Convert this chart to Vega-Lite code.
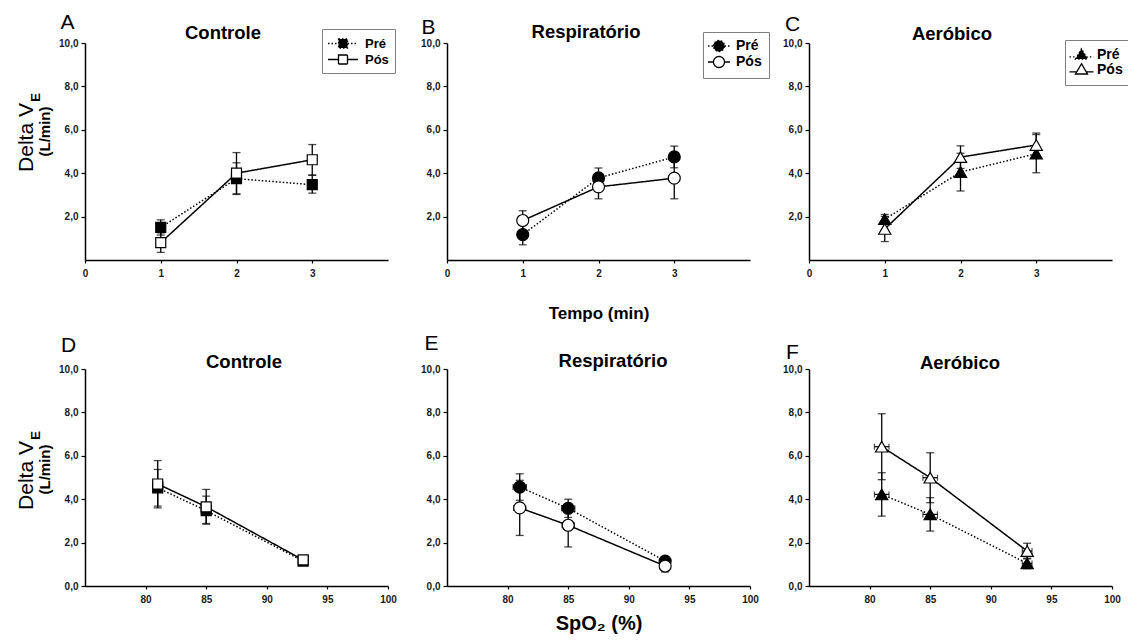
{
  "$schema": "https://vega.github.io/schema/vega-lite/v6.json",
  "background": "white",
  "padding": {"left": 15, "top": 11, "right": 5, "bottom": 5},
  "datasets": {
    "A": [
      {"grupo": "Pré", "t": 1, "v": 1.5, "lo": 1.15, "hi": 1.85},
      {"grupo": "Pré", "t": 2, "v": 3.75, "lo": 3.02, "hi": 4.48},
      {"grupo": "Pré", "t": 3, "v": 3.47, "lo": 3.08, "hi": 3.9},
      {"grupo": "Pós", "t": 1, "v": 0.8, "lo": 0.35, "hi": 1.25},
      {"grupo": "Pós", "t": 2, "v": 4.0, "lo": 3.05, "hi": 4.95},
      {"grupo": "Pós", "t": 3, "v": 4.62, "lo": 3.92, "hi": 5.32}
    ],
    "B": [
      {"grupo": "Pré", "t": 1, "v": 1.17, "lo": 0.7, "hi": 1.64},
      {"grupo": "Pré", "t": 2, "v": 3.78, "lo": 3.32, "hi": 4.24},
      {"grupo": "Pré", "t": 3, "v": 4.75, "lo": 4.25, "hi": 5.25},
      {"grupo": "Pós", "t": 1, "v": 1.82, "lo": 1.37, "hi": 2.27},
      {"grupo": "Pós", "t": 2, "v": 3.37, "lo": 2.82, "hi": 3.92},
      {"grupo": "Pós", "t": 3, "v": 3.77, "lo": 2.82, "hi": 4.72}
    ],
    "C": [
      {"grupo": "Pré", "t": 1, "v": 1.88, "lo": 1.66, "hi": 2.1},
      {"grupo": "Pré", "t": 2, "v": 4.05, "lo": 3.18, "hi": 4.92},
      {"grupo": "Pré", "t": 3, "v": 4.9, "lo": 4.02, "hi": 5.78},
      {"grupo": "Pós", "t": 1, "v": 1.43, "lo": 0.85, "hi": 2.01},
      {"grupo": "Pós", "t": 2, "v": 4.74, "lo": 4.22, "hi": 5.26},
      {"grupo": "Pós", "t": 3, "v": 5.3, "lo": 4.75, "hi": 5.85}
    ],
    "D": [
      {"grupo": "Pré", "spo2": 81, "v": 4.52, "lo": 3.68, "hi": 5.37, "xlo": 80.6, "xhi": 81.4},
      {"grupo": "Pré", "spo2": 85, "v": 3.47, "lo": 2.85, "hi": 4.14, "xlo": 84.6, "xhi": 85.4},
      {"grupo": "Pré", "spo2": 93, "v": 1.15, "lo": 1.0, "hi": 1.3, "xlo": 92.7, "xhi": 93.3},
      {"grupo": "Pós", "spo2": 81, "v": 4.7, "lo": 3.6, "hi": 5.78, "xlo": 80.6, "xhi": 81.4},
      {"grupo": "Pós", "spo2": 85, "v": 3.65, "lo": 2.88, "hi": 4.45, "xlo": 84.6, "xhi": 85.4},
      {"grupo": "Pós", "spo2": 93, "v": 1.2, "lo": 1.05, "hi": 1.35, "xlo": 92.7, "xhi": 93.3}
    ],
    "E": [
      {"grupo": "Pré", "spo2": 81, "v": 4.56, "lo": 3.95, "hi": 5.17, "xlo": 80.45, "xhi": 81.55},
      {"grupo": "Pré", "spo2": 85, "v": 3.58, "lo": 3.16, "hi": 4.0, "xlo": 84.45, "xhi": 85.55},
      {"grupo": "Pré", "spo2": 93, "v": 1.15, "lo": 0.95, "hi": 1.35, "xlo": 92.7, "xhi": 93.3},
      {"grupo": "Pós", "spo2": 81, "v": 3.6, "lo": 2.33, "hi": 4.87, "xlo": 80.5, "xhi": 81.5},
      {"grupo": "Pós", "spo2": 85, "v": 2.8, "lo": 1.8, "hi": 3.8, "xlo": 84.5, "xhi": 85.5},
      {"grupo": "Pós", "spo2": 93, "v": 0.92, "lo": 0.65, "hi": 1.19, "xlo": 92.7, "xhi": 93.3}
    ],
    "F": [
      {"grupo": "Pré", "spo2": 81, "v": 4.22, "lo": 3.22, "hi": 5.22, "xlo": 80.4, "xhi": 81.6},
      {"grupo": "Pré", "spo2": 85, "v": 3.3, "lo": 2.53, "hi": 4.07, "xlo": 84.4, "xhi": 85.6},
      {"grupo": "Pré", "spo2": 93, "v": 1.04, "lo": 0.8, "hi": 1.28, "xlo": 92.6, "xhi": 93.4},
      {"grupo": "Pós", "spo2": 81, "v": 6.42, "lo": 4.9, "hi": 7.94, "xlo": 80.4, "xhi": 81.6},
      {"grupo": "Pós", "spo2": 85, "v": 4.99, "lo": 3.84, "hi": 6.14, "xlo": 84.4, "xhi": 85.6},
      {"grupo": "Pós", "spo2": 93, "v": 1.61, "lo": 1.25, "hi": 1.97, "xlo": 92.6, "xhi": 93.4}
    ]
  },
  "columns": 3,
  "spacing": {"row": 109, "column": 59},
  "bounds": "flush",
  "resolve": {"scale": {"fill": "independent", "strokeDash": "independent"}},
  "concat": [
    {
      "width": 303, "height": 217,
      "data": {"name": "A"},
      "title": {"text": "Controle", "dx": -13.5, "offset": -31.5},
      "resolve": {"axis": {"y": "independent"}},
      "layer": [
        {
          "mark": {"type": "errorbar", "ticks": true, "size": 8, "thickness": 1.3, "color": "black"},
          "encoding": {
            "x": {"field": "t", "type": "quantitative", "scale": {"domain": [0, 4], "nice": false, "zero": false},
              "axis": {"values": [0, 1, 2, 3], "format": "d", "title": "A", "titleAngle": 0, "titleX": -18, "titleY": -238, "titleAlign": "center", "titleBaseline": "middle", "titleFontSize": 21, "titleFontWeight": "normal"}},
            "y": {"field": "lo", "type": "quantitative", "scale": {"domain": [0, 10], "nice": false},
              "axis": {"orient": "left", "values": [2, 4, 6, 8, 10], "labelExpr": "replace(format(datum.value, '.1f'), '.', ',')", "title": "Delta V", "titleAngle": 270, "titleX": -59, "titleY": 94, "titleAlign": "center", "titleBaseline": "middle", "titleFontSize": 21, "titleFontWeight": "normal"}},
            "y2": {"field": "hi"}
          }
        },
        {
          "mark": {"type": "line", "color": "black", "strokeWidth": 1.5},
          "encoding": {
            "x": {"field": "t", "type": "quantitative"},
            "y": {"field": "v", "type": "quantitative",
              "axis": {"orient": "left", "labels": false, "ticks": false, "domain": false, "title": "(L/min)", "titleAngle": 270, "titleX": -41, "titleY": 88, "titleAlign": "center", "titleBaseline": "middle", "titleFontSize": 15, "titleFontWeight": "bold"}},
            "strokeDash": {"field": "grupo", "type": "nominal", "scale": {"domain": ["Pré", "Pós"], "range": [[1.5, 2], [1, 0]]},
              "legend": {"orient": "none", "legendX": 237, "legendY": -14, "title": null, "symbolType": "M-2,0H-0.6M0.6,0H2M-0.6,-0.6H0.6V0.6H-0.6Z", "symbolSize": 225, "symbolOffset": 6.5, "symbolStrokeColor": "black", "symbolStrokeWidth": 1.3, "labelFontSize": 13, "rowPadding": -0.5, "padding": 6, "labelOffset": 13.5}}
          }
        },
        {
          "mark": {"type": "point", "shape": "square", "filled": true, "size": 100, "stroke": "black", "strokeWidth": 1.2, "opacity": 1},
          "encoding": {
            "x": {"field": "t", "type": "quantitative"},
            "y": {"field": "v", "type": "quantitative",
              "axis": {"orient": "left", "labels": false, "ticks": false, "domain": false, "title": "E", "titleAngle": 270, "titleX": -50, "titleY": 54, "titleAlign": "center", "titleBaseline": "middle", "titleFontSize": 13, "titleFontWeight": "bold"}},
            "fill": {"field": "grupo", "type": "nominal", "scale": {"domain": ["Pré", "Pós"], "range": ["black", "white"]},
              "legend": {"orient": "none", "legendX": 237, "legendY": -14, "title": null, "symbolType": "M-2,0H-0.6M0.6,0H2M-0.6,-0.6H0.6V0.6H-0.6Z", "symbolSize": 225, "symbolOffset": 6.5, "symbolStrokeColor": "black", "symbolStrokeWidth": 1.3, "labelFontSize": 13, "rowPadding": -0.5, "padding": 6, "labelOffset": 13.5}}
          }
        }
      ]
    },
    {
      "width": 303, "height": 217,
      "data": {"name": "B"},
      "title": {"text": "Respiratório", "dx": -12.5, "offset": -25.5},
      "resolve": {"axis": {"y": "independent"}},
      "layer": [
        {
          "mark": {"type": "errorbar", "ticks": true, "size": 8, "thickness": 1.3, "color": "black"},
          "encoding": {
            "x": {"field": "t", "type": "quantitative", "scale": {"domain": [0, 4], "nice": false, "zero": false},
              "axis": {"values": [0, 1, 2, 3], "format": "d", "title": "Tempo (min)", "titleY": 53, "titleBaseline": "middle", "titleFontSize": 17, "titleFontWeight": "bold"}},
            "y": {"field": "lo", "type": "quantitative", "scale": {"domain": [0, 10], "nice": false},
              "axis": {"orient": "left", "values": [2, 4, 6, 8, 10], "labelExpr": "replace(format(datum.value, '.1f'), '.', ',')", "title": "B", "titleAngle": 0, "titleX": -19, "titleY": -16, "titleAlign": "center", "titleBaseline": "middle", "titleFontSize": 21, "titleFontWeight": "normal"}},
            "y2": {"field": "hi"}
          }
        },
        {
          "mark": {"type": "line", "color": "black", "strokeWidth": 1.5},
          "encoding": {
            "x": {"field": "t", "type": "quantitative"},
            "y": {"field": "v", "type": "quantitative", "axis": null},
            "strokeDash": {"field": "grupo", "type": "nominal", "scale": {"domain": ["Pré", "Pós"], "range": [[1.5, 2], [1, 0]]},
              "legend": {"orient": "none", "legendX": 256, "legendY": -11, "title": null, "symbolType": "M-2,0H-1M1,0H2M-1,0A1,1,0,1,1,1,0A1,1,0,1,1,-1,0Z", "symbolSize": 121, "symbolOffset": 2, "symbolStrokeColor": "black", "symbolStrokeWidth": 1.3, "labelFontSize": 14, "rowPadding": -3, "padding": 7, "labelOffset": 10}}
          }
        },
        {
          "mark": {"type": "point", "shape": "circle", "filled": true, "size": 144, "stroke": "black", "strokeWidth": 1.2, "opacity": 1},
          "encoding": {
            "x": {"field": "t", "type": "quantitative"},
            "y": {"field": "v", "type": "quantitative", "axis": null},
            "fill": {"field": "grupo", "type": "nominal", "scale": {"domain": ["Pré", "Pós"], "range": ["black", "white"]},
              "legend": {"orient": "none", "legendX": 256, "legendY": -11, "title": null, "symbolType": "M-2,0H-1M1,0H2M-1,0A1,1,0,1,1,1,0A1,1,0,1,1,-1,0Z", "symbolSize": 121, "symbolOffset": 2, "symbolStrokeColor": "black", "symbolStrokeWidth": 1.3, "labelFontSize": 14, "rowPadding": -3, "padding": 7, "labelOffset": 10}}
          }
        }
      ]
    },
    {
      "width": 303, "height": 217,
      "data": {"name": "C"},
      "title": {"text": "Aeróbico", "dx": -8.5, "offset": -30.5},
      "resolve": {"axis": {"y": "independent"}},
      "layer": [
        {
          "mark": {"type": "errorbar", "ticks": true, "size": 8, "thickness": 1.3, "color": "black"},
          "encoding": {
            "x": {"field": "t", "type": "quantitative", "scale": {"domain": [0, 4], "nice": false, "zero": false},
              "axis": {"values": [0, 1, 2, 3], "format": "d", "title": null}},
            "y": {"field": "lo", "type": "quantitative", "scale": {"domain": [0, 10], "nice": false},
              "axis": {"orient": "left", "values": [2, 4, 6, 8, 10], "labelExpr": "replace(format(datum.value, '.1f'), '.', ',')", "title": "C", "titleAngle": 0, "titleX": -17, "titleY": -19, "titleAlign": "center", "titleBaseline": "middle", "titleFontSize": 21, "titleFontWeight": "normal"}},
            "y2": {"field": "hi"}
          }
        },
        {
          "mark": {"type": "line", "color": "black", "strokeWidth": 1.5},
          "encoding": {
            "x": {"field": "t", "type": "quantitative"},
            "y": {"field": "v", "type": "quantitative", "axis": null},
            "strokeDash": {"field": "grupo", "type": "nominal", "scale": {"domain": ["Pré", "Pós"], "range": [[1.5, 2], [1, 0]]},
              "legend": {"orient": "none", "legendX": 256, "legendY": -3, "title": null, "symbolType": "M-2,0.4H-0.8M0.8,0.4H2M-1,0.75L0,-0.95L1,0.75Z", "symbolSize": 144, "symbolOffset": 2, "symbolStrokeColor": "black", "symbolStrokeWidth": 1.3, "labelFontSize": 14, "rowPadding": -2, "padding": 7.5, "labelOffset": 8.5}}
          }
        },
        {
          "mark": {"type": "point", "shape": "triangle-up", "filled": true, "size": 150, "stroke": "black", "strokeWidth": 1.2, "opacity": 1},
          "encoding": {
            "x": {"field": "t", "type": "quantitative"},
            "y": {"field": "v", "type": "quantitative", "axis": null},
            "fill": {"field": "grupo", "type": "nominal", "scale": {"domain": ["Pré", "Pós"], "range": ["black", "white"]},
              "legend": {"orient": "none", "legendX": 256, "legendY": -3, "title": null, "symbolType": "M-2,0.4H-0.8M0.8,0.4H2M-1,0.75L0,-0.95L1,0.75Z", "symbolSize": 144, "symbolOffset": 2, "symbolStrokeColor": "black", "symbolStrokeWidth": 1.3, "labelFontSize": 14, "rowPadding": -2, "padding": 7.5, "labelOffset": 8.5}}
          }
        }
      ]
    },
    {
      "width": 303, "height": 217,
      "data": {"name": "D"},
      "title": {"text": "Controle", "dx": 7.5, "offset": -37.5},
      "resolve": {"axis": {"y": "independent"}},
      "layer": [
        {
          "mark": {"type": "errorbar", "ticks": true, "size": 8, "thickness": 1.3, "color": "black"},
          "encoding": {
            "x": {"field": "spo2", "type": "quantitative", "scale": {"domain": [75, 100], "nice": false, "zero": false},
              "axis": {"values": [80, 85, 90, 95, 100], "title": "D", "titleAngle": 0, "titleX": -17, "titleY": -241, "titleAlign": "center", "titleBaseline": "middle", "titleFontSize": 21, "titleFontWeight": "normal"}},
            "y": {"field": "lo", "type": "quantitative", "scale": {"domain": [0, 10], "nice": false},
              "axis": {"orient": "left", "values": [0, 2, 4, 6, 8, 10], "labelExpr": "replace(format(datum.value, '.1f'), '.', ',')", "title": "Delta V", "titleAngle": 270, "titleX": -59, "titleY": 106, "titleAlign": "center", "titleBaseline": "middle", "titleFontSize": 21, "titleFontWeight": "normal"}},
            "y2": {"field": "hi"}
          }
        },
        {
          "mark": {"type": "errorbar", "ticks": true, "size": 6, "thickness": 1.2, "color": "black"},
          "encoding": {
            "x": {"field": "xlo", "type": "quantitative", "title": "D"},
            "x2": {"field": "xhi"},
            "y": {"field": "v", "type": "quantitative", "axis": null}
          }
        },
        {
          "mark": {"type": "line", "color": "black", "strokeWidth": 1.5},
          "encoding": {
            "x": {"field": "spo2", "type": "quantitative"},
            "y": {"field": "v", "type": "quantitative",
              "axis": {"orient": "left", "labels": false, "ticks": false, "domain": false, "title": "(L/min)", "titleAngle": 270, "titleX": -41, "titleY": 100, "titleAlign": "center", "titleBaseline": "middle", "titleFontSize": 15, "titleFontWeight": "bold"}},
            "strokeDash": {"field": "grupo", "type": "nominal", "scale": {"domain": ["Pré", "Pós"], "range": [[1.5, 2], [1, 0]]}, "legend": null}
          }
        },
        {
          "mark": {"type": "point", "shape": "square", "filled": true, "size": 100, "stroke": "black", "strokeWidth": 1.2, "opacity": 1},
          "encoding": {
            "x": {"field": "spo2", "type": "quantitative"},
            "y": {"field": "v", "type": "quantitative",
              "axis": {"orient": "left", "labels": false, "ticks": false, "domain": false, "title": "E", "titleAngle": 270, "titleX": -50, "titleY": 66, "titleAlign": "center", "titleBaseline": "middle", "titleFontSize": 13, "titleFontWeight": "bold"}},
            "fill": {"field": "grupo", "type": "nominal", "scale": {"domain": ["Pré", "Pós"], "range": ["black", "white"]}, "legend": null}
          }
        }
      ]
    },
    {
      "width": 303, "height": 217,
      "data": {"name": "E"},
      "title": {"text": "Respiratório", "dx": 14.5, "offset": -38.5},
      "resolve": {"axis": {"y": "independent"}},
      "layer": [
        {
          "mark": {"type": "errorbar", "ticks": true, "size": 8, "thickness": 1.3, "color": "black"},
          "encoding": {
            "x": {"field": "spo2", "type": "quantitative", "scale": {"domain": [75, 100], "nice": false, "zero": false},
              "axis": {"values": [80, 85, 90, 95, 100], "title": "SpO₂ (%)", "titleY": 37, "titleBaseline": "middle", "titleFontSize": 20, "titleFontWeight": "bold"}},
            "y": {"field": "lo", "type": "quantitative", "scale": {"domain": [0, 10], "nice": false},
              "axis": {"orient": "left", "values": [0, 2, 4, 6, 8, 10], "labelExpr": "replace(format(datum.value, '.1f'), '.', ',')", "title": "E", "titleAngle": 0, "titleX": -16, "titleY": -26, "titleAlign": "center", "titleBaseline": "middle", "titleFontSize": 21, "titleFontWeight": "normal"}},
            "y2": {"field": "hi"}
          }
        },
        {
          "mark": {"type": "errorbar", "ticks": true, "size": 6, "thickness": 1.2, "color": "black"},
          "encoding": {
            "x": {"field": "xlo", "type": "quantitative", "title": "SpO₂ (%)"},
            "x2": {"field": "xhi"},
            "y": {"field": "v", "type": "quantitative", "axis": null}
          }
        },
        {
          "mark": {"type": "line", "color": "black", "strokeWidth": 1.5},
          "encoding": {
            "x": {"field": "spo2", "type": "quantitative"},
            "y": {"field": "v", "type": "quantitative", "axis": null},
            "strokeDash": {"field": "grupo", "type": "nominal", "scale": {"domain": ["Pré", "Pós"], "range": [[1.5, 2], [1, 0]]}, "legend": null}
          }
        },
        {
          "mark": {"type": "point", "shape": "circle", "filled": true, "size": 144, "stroke": "black", "strokeWidth": 1.2, "opacity": 1},
          "encoding": {
            "x": {"field": "spo2", "type": "quantitative"},
            "y": {"field": "v", "type": "quantitative", "axis": null},
            "fill": {"field": "grupo", "type": "nominal", "scale": {"domain": ["Pré", "Pós"], "range": ["black", "white"]}, "legend": null}
          }
        }
      ]
    },
    {
      "width": 303, "height": 217,
      "data": {"name": "F"},
      "title": {"text": "Aeróbico", "dx": -0.5, "offset": -31.5},
      "resolve": {"axis": {"y": "independent"}},
      "layer": [
        {
          "mark": {"type": "errorbar", "ticks": true, "size": 8, "thickness": 1.3, "color": "black"},
          "encoding": {
            "x": {"field": "spo2", "type": "quantitative", "scale": {"domain": [75, 100], "nice": false, "zero": false},
              "axis": {"values": [80, 85, 90, 95, 100], "title": null}},
            "y": {"field": "lo", "type": "quantitative", "scale": {"domain": [0, 10], "nice": false},
              "axis": {"orient": "left", "values": [0, 2, 4, 6, 8, 10], "labelExpr": "replace(format(datum.value, '.1f'), '.', ',')", "title": "F", "titleAngle": 0, "titleX": -17, "titleY": -17, "titleAlign": "center", "titleBaseline": "middle", "titleFontSize": 21, "titleFontWeight": "normal"}},
            "y2": {"field": "hi"}
          }
        },
        {
          "mark": {"type": "errorbar", "ticks": true, "size": 6, "thickness": 1.2, "color": "black"},
          "encoding": {
            "x": {"field": "xlo", "type": "quantitative"},
            "x2": {"field": "xhi"},
            "y": {"field": "v", "type": "quantitative", "axis": null}
          }
        },
        {
          "mark": {"type": "line", "color": "black", "strokeWidth": 1.5},
          "encoding": {
            "x": {"field": "spo2", "type": "quantitative"},
            "y": {"field": "v", "type": "quantitative", "axis": null},
            "strokeDash": {"field": "grupo", "type": "nominal", "scale": {"domain": ["Pré", "Pós"], "range": [[1.5, 2], [1, 0]]}, "legend": null}
          }
        },
        {
          "mark": {"type": "point", "shape": "triangle-up", "filled": true, "size": 150, "stroke": "black", "strokeWidth": 1.2, "opacity": 1},
          "encoding": {
            "x": {"field": "spo2", "type": "quantitative"},
            "y": {"field": "v", "type": "quantitative", "axis": null},
            "fill": {"field": "grupo", "type": "nominal", "scale": {"domain": ["Pré", "Pós"], "range": ["black", "white"]}, "legend": null}
          }
        }
      ]
    }
  ],
  "config": {
    "font": "Liberation Sans",
    "view": {"stroke": null},
    "axis": {"grid": false, "domainColor": "black", "domainWidth": 1.5, "tickColor": "black", "tickWidth": 1.2, "tickSize": 4, "labelFont": "Liberation Sans", "labelFontSize": 10, "labelFontWeight": "bold", "labelColor": "#1a1a1a", "labelPadding": 3, "labelFlush": false, "titleFont": "Liberation Sans", "titleColor": "black"},
    "axisX": {"tickSize": 3, "labelPadding": 5},
    "title": {"font": "Liberation Sans", "fontSize": 18.5, "fontWeight": "bold", "color": "black", "baseline": "middle"},
    "legend": {"strokeColor": "#808080", "fillColor": "white", "labelFont": "Liberation Sans", "labelFontWeight": "bold", "labelColor": "black", "cornerRadius": 0}
  }
}
